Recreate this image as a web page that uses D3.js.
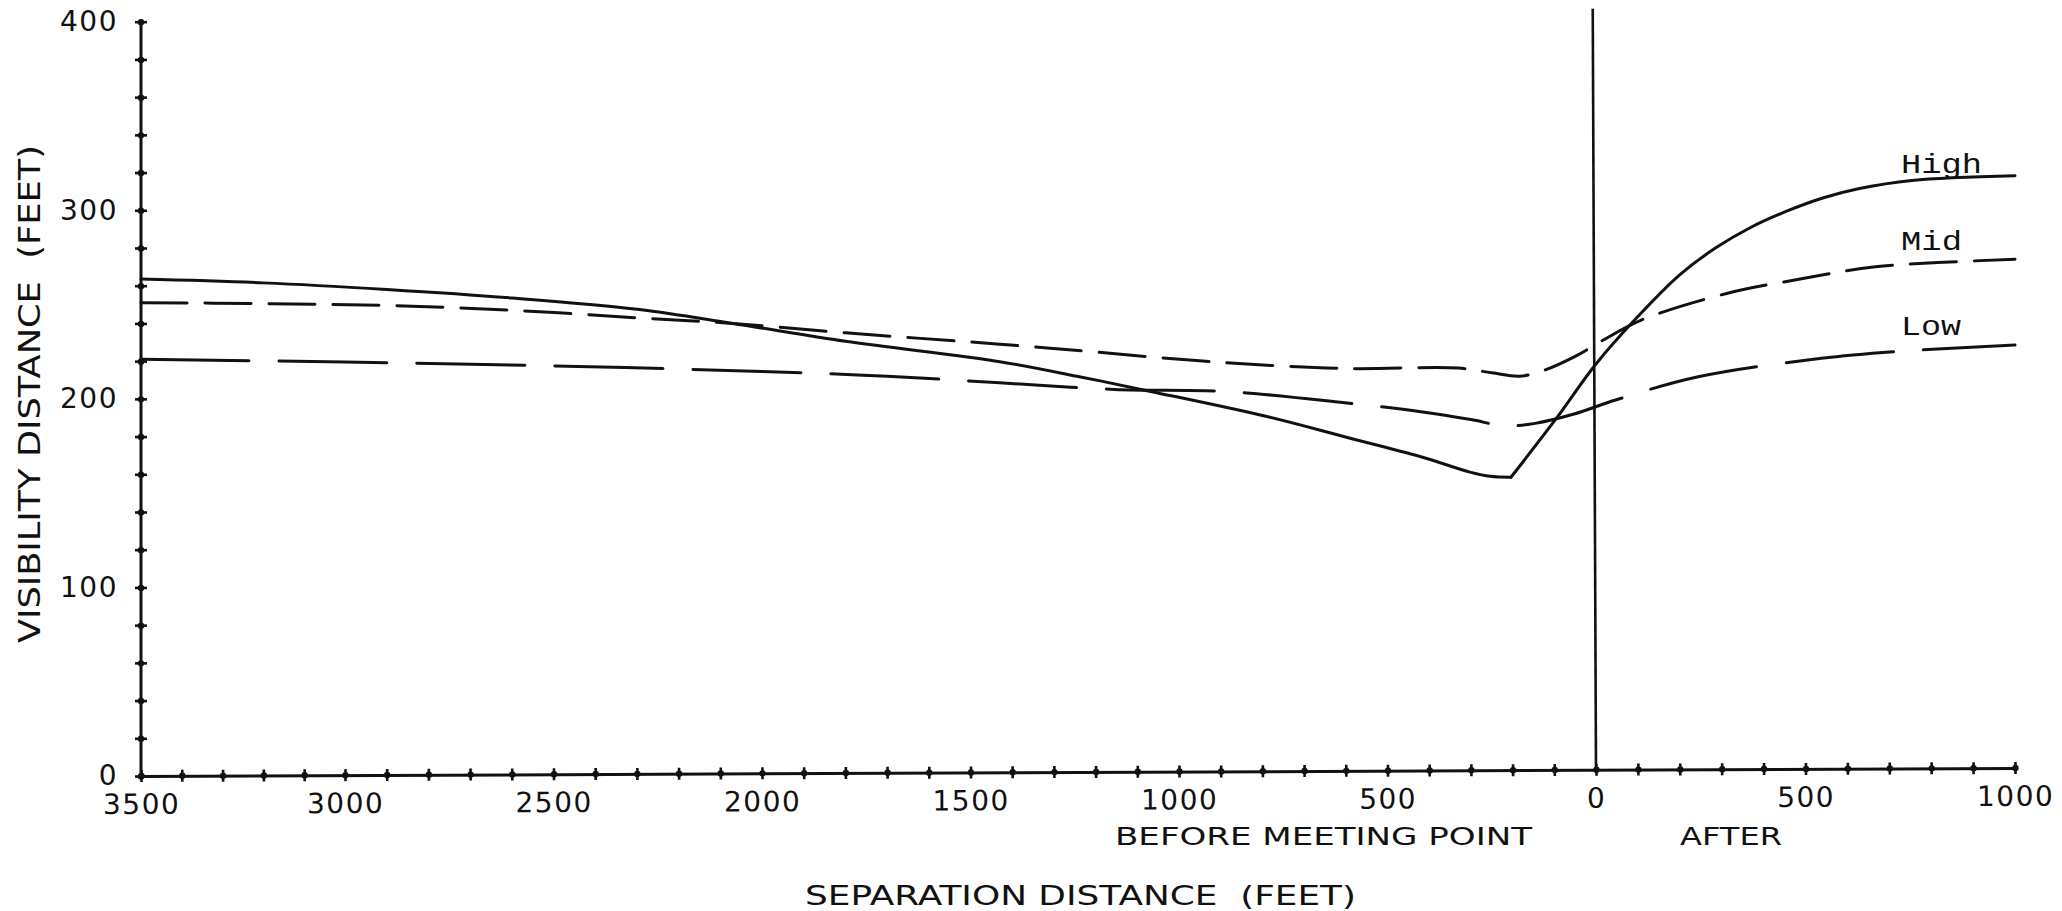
<!DOCTYPE html>
<html>
<head>
<meta charset="utf-8">
<script src="https://cdn.jsdelivr.net/npm/d3@7/dist/d3.min.js"></script>
<style>
  html, body { margin: 0; padding: 0; background: #fff; }
  svg { display: block; }
  text { fill: #111; }
</style>
</head>
<body>
<script>
// Separation distance (feet): negative = before the meeting point, positive = after
const highX = [-3500, -3200, -2900, -2600, -2300, -2070, -1800, -1430, -1245, -1065, -787, -603, -420, -300, -254, -204, -98, 0, 96, 199, 284, 370, 455, 541, 626, 754, 1000];
const highY = [263.5, 261.5, 258, 253.5, 247.5, 240, 230.5, 219.7, 212, 203.8, 190.5, 179.9, 169.3, 161, 158.9, 158.4, 188.8, 218.5, 242.7, 265.6, 279.8, 291, 299.5, 306.5, 311.4, 315.8, 318.3];

const midX = [-3500, -3200, -2900, -2600, -2300, -2070, -1800, -1430, -1210, -916, -603, -330, -250, -183, -120, -50, 20, 108, 314, 497, 667, 1000];
const midY = [251, 250.5, 249.5, 247, 243, 240, 235, 229, 225, 219.6, 216.1, 216.3, 213.8, 212, 215.5, 222.5, 231.5, 241.8, 256, 263.9, 270, 274];

const lowX = [-3500, -3000, -2500, -2000, -1700, -1430, -1155, -880, -603, -420, -300, -220, -146, -55, 47, 244, 538, 711, 1000];
const lowY = [221, 219.5, 217.5, 214.5, 212, 208.5, 205, 203.8, 197.9, 193.2, 189, 185.7, 187, 191.8, 199.4, 211.7, 221.5, 225, 228.5];

// Axis ticks and labels
const xMinorTicks = d3.range(-3500, 1001, 100);
const xLabelTicks = [-3500, -3000, -2500, -2000, -1500, -1000, -500, 0, 500, 1000];
const yMinorTicks = d3.range(0, 401, 20);
const yLabelTicks = [0, 100, 200, 300, 400];

const seriesNames = ["High", "Mid", "Low"];

const W = 2062, H = 911;
const ink = "#111";

const svg = d3.select("body").append("svg")
  .attr("width", W).attr("height", H);

const x = d3.scaleLinear()
  .domain([-3500, -3000, 0, 1000])
  .range([141, 345, 1596, 2015]);
const y = d3.scaleLinear()
  .domain([0, 400])
  .range([776, 21.7]);

// Plotter tick: a short cross-bar with a small knot in the middle
function crossTicks(sel, horizontal) {
  const t = sel.selectAll(".tick");
  t.append("line")
    .attr(horizontal ? "x1" : "y1", -6)
    .attr(horizontal ? "x2" : "y2", 6)
    .attr("stroke", ink).attr("stroke-width", 2.6);
  t.append("circle").attr("r", 3.2).attr("fill", ink);
}

// ---- Y axis
const gy = svg.append("g")
  .attr("transform", `translate(${x(-3500)},0)`)
  .call(d3.axisLeft(y)
    .tickValues(yMinorTicks)
    .tickSize(0)
    .tickPadding(23)
    .tickFormat(d => yLabelTicks.includes(d) ? String(d) : ""));
gy.select(".domain").attr("stroke", ink).attr("stroke-width", 3)
  .attr("d", `M0,${y(0)}V${y(400) - 2}`);
gy.selectAll(".tick text")
  .attr("font-family", "DejaVu Sans").attr("font-size", 28)
  .attr("letter-spacing", 1.5).attr("fill", ink);
crossTicks(gy, true);

// ---- X axis (plotter baseline rises slightly toward the right)
const tilt = Math.atan2(-8, x(1000) - x(-3500)) * 180 / Math.PI;
const gxWrap = svg.append("g")
  .attr("transform", `rotate(${tilt},${x(-3500)},${y(0)})`);
const gx = gxWrap.append("g")
  .attr("transform", `translate(0,${y(0)})`)
  .call(d3.axisBottom(x)
    .tickValues(xMinorTicks)
    .tickSize(0)
    .tickPadding(18)
    .tickFormat(d => xLabelTicks.includes(d) ? String(Math.abs(d)) : ""));
gx.select(".domain").attr("stroke", ink).attr("stroke-width", 3);
gx.selectAll(".tick text")
  .attr("font-family", "DejaVu Sans").attr("font-size", 28)
  .attr("letter-spacing", 1.5).attr("fill", ink);
crossTicks(gx, false);

// Meeting point marker
gx.append("line")
  .attr("x1", x(0)).attr("x2", x(0))
  .attr("y1", 0).attr("y2", -(y(0) - 15))
  .attr("stroke", ink).attr("stroke-width", 2.6);

// ---- Curves
const line = d3.line()
  .x(d => x(d[0]))
  .y(d => y(d[1]))
  .curve(d3.curveCatmullRom.alpha(0.5));

// The High curve has a sharp turn at its minimum: draw each side separately
const highPts = d3.zip(highX, highY);
const turn = d3.minIndex(highY);

const paths = [
  { d: line(highPts.slice(0, turn + 1)), dash: null },
  { d: line(highPts.slice(turn)), dash: null },
  { d: line(d3.zip(midX, midY)), dash: "46 18" },
  { d: line(d3.zip(lowX, lowY)), dash: "108 30" }
];

svg.append("g").selectAll("path")
  .data(paths)
  .join("path")
  .attr("d", p => p.d)
  .attr("fill", "none")
  .attr("stroke", ink)
  .attr("stroke-width", 3)
  .attr("stroke-linecap", "round")
  .attr("stroke-linejoin", "round")
  .attr("stroke-dasharray", p => p.dash);

// ---- Series labels at the right end
const seriesLabelPos = [
  { baseline: 173, len: 81 },
  { baseline: 250, len: 61 },
  { baseline: 335, len: 60 }
];
svg.append("g").selectAll("text")
  .data(seriesNames)
  .join("text")
  .attr("x", 1901)
  .attr("y", (s, i) => seriesLabelPos[i].baseline)
  .attr("textLength", (s, i) => seriesLabelPos[i].len)
  .attr("lengthAdjust", "spacingAndGlyphs")
  .attr("font-family", "Liberation Mono")
  .attr("font-size", 28)
  .text(s => s);

// ---- Axis titles
svg.append("text")
  .attr("x", 1115).attr("y", 845)
  .attr("textLength", 417).attr("lengthAdjust", "spacingAndGlyphs")
  .attr("font-family", "DejaVu Sans").attr("font-size", 25)
  .text("BEFORE MEETING POINT");

svg.append("text")
  .attr("x", 1680).attr("y", 845)
  .attr("textLength", 102).attr("lengthAdjust", "spacingAndGlyphs")
  .attr("font-family", "DejaVu Sans").attr("font-size", 25)
  .text("AFTER");

svg.append("text")
  .attr("x", 805).attr("y", 905)
  .attr("textLength", 551).attr("lengthAdjust", "spacingAndGlyphs")
  .attr("font-family", "DejaVu Sans").attr("font-size", 27)
  .attr("xml:space", "preserve")
  .text("SEPARATION DISTANCE  (FEET)");

svg.append("text")
  .attr("transform", "translate(40,643) rotate(-90)")
  .attr("textLength", 498).attr("lengthAdjust", "spacingAndGlyphs")
  .attr("font-family", "DejaVu Sans").attr("font-size", 30)
  .attr("xml:space", "preserve")
  .text("VISIBILITY DISTANCE  (FEET)");
</script>
</body>
</html>
